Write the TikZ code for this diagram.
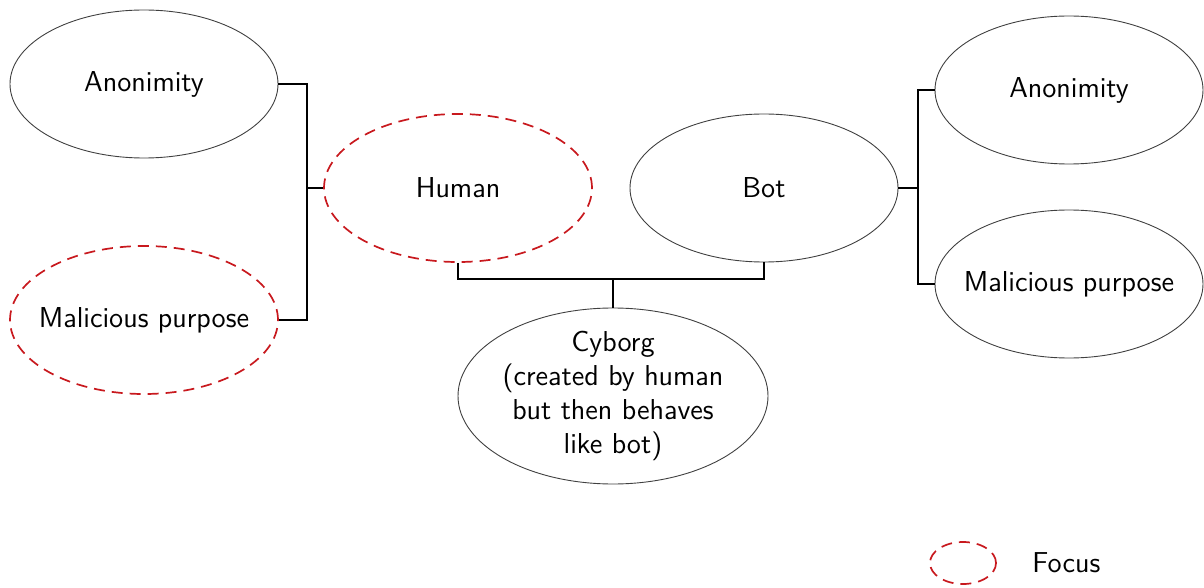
\documentclass[tikz,border=0pt]{standalone}
\usetikzlibrary{shapes.geometric}
\definecolor{focusred}{RGB}{200,25,30}
\begin{document}
\begin{tikzpicture}[x=0.5pt,y=-0.5pt,
  every node/.style={font=\sffamily\fontsize{14.4}{17}\selectfont},
  ell/.style={ellipse, draw=black!75, line width=0.45pt, inner sep=0pt,
    minimum width=134pt, minimum height=74pt},
  focus/.style={draw=focusred, line width=0.85pt, dash pattern=on 5.5pt off 3.5pt},
  conn/.style={draw=black, line width=0.8pt}]
\useasboundingbox (0,0) rectangle (1204,588);
% nodes
\node[ell, label=center:Anonimity] (la) at (144,84) {};
\node[ell, focus, label=center:Malicious purpose] (lm) at (144,320) {};
\node[ell, focus, label=center:Human] (hu) at (458,188) {};
\node[ell, label=center:Bot] (bo) at (764,188) {};
\node[ell, label=center:Anonimity] (ra) at (1069,90) {};
\node[ell, label=center:Malicious purpose] (rm) at (1069,284) {};
\node[ell, minimum width=155pt, minimum height=88pt,
  label={[align=center]center:Cyborg\\(created by human\\but then behaves\\like bot)}] (cy) at (613,396) {};
\node[ell, focus, minimum width=33pt, minimum height=21pt] (lg) at (963,563) {};
\node[anchor=west, inner sep=0pt] (lgt) at (1032,563) {Focus};
% junction coordinates
\coordinate (lj) at (307,188);
\coordinate (bj) at (613,279);
\coordinate (rj) at (918,188);
% connectors
\draw[conn] (la.east) -| (lj) |- (lm.east);
\draw[conn] (hu.west) -- (lj);
\draw[conn] (hu.south) |- (bj) -| (bo.south);
\draw[conn] (cy.north) -- (bj);
\draw[conn] (bo.east) -- (rj);
\draw[conn] (ra.west) -| (rj) |- (rm.west);
\end{tikzpicture}
\end{document}
